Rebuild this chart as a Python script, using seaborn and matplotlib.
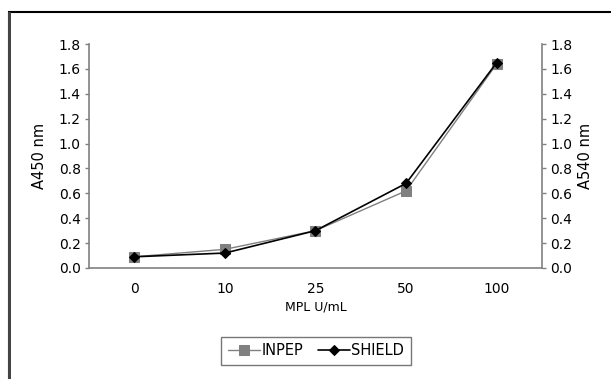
import numpy as np
import pandas as pd
import matplotlib
matplotlib.use("Agg")
import matplotlib.pyplot as plt
import seaborn as sns
from matplotlib.patches import Rectangle

# data
doses = ["0", "10", "25", "50", "100"]
inpep = [0.09, 0.15, 0.30, 0.62, 1.64]
shield = [0.09, 0.12, 0.30, 0.68, 1.65]
y_ticks = [0.0, 0.2, 0.4, 0.6, 0.8, 1.0, 1.2, 1.4, 1.6, 1.8]

sns.set_style("white")
plt.rcParams["font.family"] = ["DejaVu Sans"]
plt.rcParams["font.size"] = 10
plt.rcParams["text.color"] = "black"
plt.rcParams["axes.labelcolor"] = "black"
plt.rcParams["xtick.color"] = "black"
plt.rcParams["ytick.color"] = "black"

df = pd.DataFrame({
    "pos": np.arange(len(doses)),
    "INPEP": inpep,
    "SHIELD": shield,
})

fig = plt.figure(figsize=(6.11, 3.79), dpi=100)
ax = fig.add_axes([0.1457, 0.2929, 0.7413, 0.591])
ax2 = ax.twinx()

sns.lineplot(data=df, x="pos", y="INPEP", ax=ax, color="#808080", marker="s",
             markersize=6.5, markeredgecolor="#808080", linewidth=1.0, label="INPEP",
             legend=False)
sns.lineplot(data=df, x="pos", y="SHIELD", ax=ax2, color="black", marker="D",
             markersize=5.5, markeredgecolor="black", linewidth=1.2, label="SHIELD",
             legend=False)

spine_c = "#808080"
for a in (ax, ax2):
    a.set_ylim(0, 1.8)
    a.set_xlim(-0.5, len(doses) - 0.5)
    a.set_yticks(y_ticks)
    a.set_yticklabels([f"{t:.1f}" for t in y_ticks])
    a.spines["top"].set_visible(False)
    for s in ("left", "right", "bottom"):
        a.spines[s].set_color(spine_c)
        a.spines[s].set_linewidth(1.2)
    a.tick_params(axis="y", length=3, width=1, color=spine_c, pad=3, labelsize=10)

ax.spines["right"].set_visible(False)
ax2.spines["left"].set_visible(False)
ax2.spines["bottom"].set_visible(False)

# category labels without marks, small inward marks between categories
ax.set_xticks(df["pos"])
ax.set_xticklabels(doses)
ax.tick_params(axis="x", length=0, pad=10, labelsize=10)
ax.set_xticks(np.arange(0.5, len(doses) - 0.5, 1.0), minor=True)
ax.tick_params(axis="x", which="minor", direction="in", length=4, width=1, color=spine_c)

ax.set_xlabel("MPL U/mL", fontsize=9, labelpad=3)
ax.set_ylabel("A450 nm", fontsize=10.5, labelpad=8)
ax2.set_ylabel("A540 nm", fontsize=10.5, labelpad=4)

h1, l1 = ax.get_legend_handles_labels()
h2, l2 = ax2.get_legend_handles_labels()
leg = fig.legend(h1 + h2, l1 + l2, loc="center", bbox_to_anchor=(0.517, 0.074),
                 ncol=2, frameon=True, fancybox=False, edgecolor="#555555",
                 handlelength=2.2, handletextpad=0.1, columnspacing=1.0,
                 borderpad=0.45, fontsize=10.5)
leg.get_frame().set_linewidth(1.0)

# outer frame (cut off at right and bottom in the reference)
fig.patches.append(Rectangle((9 / 611, -0.05), 1.0, 1 - 12 / 379 + 0.05,
                             transform=fig.transFigure, fill=False,
                             edgecolor="black", linewidth=1.5))
fig.patches.append(Rectangle((9 / 611, -0.05), 0.0, 1 - 12 / 379 + 0.05,
                             transform=fig.transFigure, fill=False,
                             edgecolor="#444444", linewidth=2.0))

fig.savefig("out.png", dpi=100)
